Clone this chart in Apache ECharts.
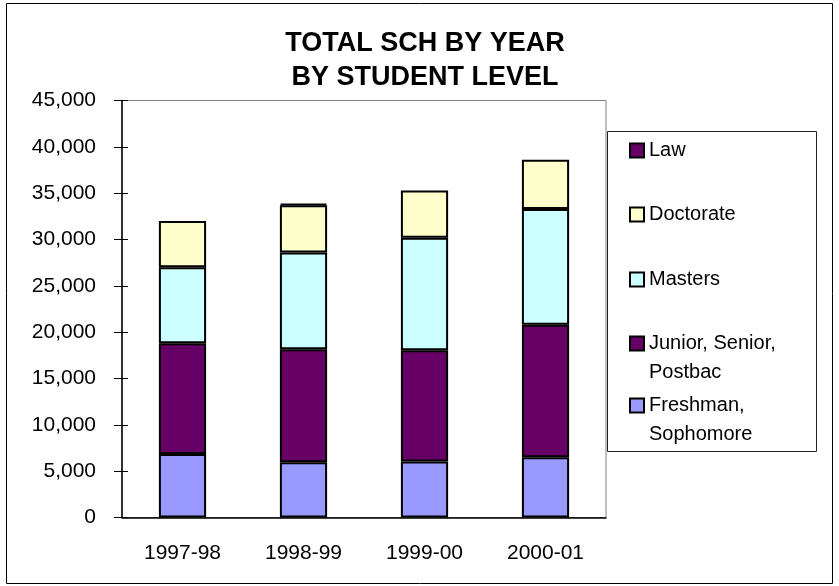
<!DOCTYPE html>
<html>
<head>
<meta charset="utf-8">
<script src="https://cdn.jsdelivr.net/npm/echarts@6/dist/echarts.min.js"></script>
<style>html,body{margin:0;padding:0;background:#fff}#chart{width:839px;height:586px}</style>
</head>
<body>
<div id="chart"></div>
<script>
const years = ['1997-98', '1998-99', '1999-00', '2000-01']
const freshman = [6850, 5950, 6050, 6500]
const junior = [11950, 12200, 12000, 14300]
const masters = [8200, 10450, 12150, 12500]
const doctorate = [5000, 5100, 5100, 5300]
const law = [0, 150, 0, 0]
const yTicks = [0, 5000, 10000, 15000, 20000, 25000, 30000, 35000, 40000, 45000]

const FONT = 'Liberation Sans, Arial, sans-serif'
const chart = echarts.init(document.getElementById('chart'))

// zero segments become empty so they don't draw an extra border line
const mkBar = (name, data, color) => ({
  name, data: data.map(v => (v ? v : '-')), type: 'bar', stack: 'sch', barWidth: '39%',
  itemStyle: { color, borderColor: '#000', borderWidth: 2 },
  emphasis: { disabled: true },
})

// one legend per entry so the two-line names keep the box on their first line
const mkLegend = (name, top, text) => ({
  data: [name], left: 629, top, orient: 'vertical', icon: 'rect',
  itemWidth: 14, itemHeight: 14, padding: 0,
  itemStyle: { borderColor: '#000', borderWidth: 2 },
  textStyle: { fontFamily: FONT, fontSize: 20, color: '#000', lineHeight: 29 },
  formatter: () => text || name,
})

chart.setOption({
  animation: false,
  title: {
    text: 'TOTAL SCH BY YEAR\nBY STUDENT LEVEL', left: 420, textAlign: 'center', top: 22,
    textStyle: { fontFamily: FONT, fontSize: 27, fontWeight: 'bold', color: '#000', lineHeight: 34 },
  },
  graphic: [
    { type: 'rect', shape: { x: 6.5, y: 3.5, width: 826, height: 580 }, style: { fill: null, stroke: '#000', lineWidth: 1 }, silent: true },
    { type: 'rect', shape: { x: 607.5, y: 131.5, width: 209, height: 320 }, style: { fill: null, stroke: '#222', lineWidth: 1 }, silent: true },
  ],
  legend: [
    mkLegend('Law', 136),
    mkLegend('Doctorate', 200),
    mkLegend('Masters', 265),
    mkLegend('Junior, Senior, Postbac', 300, '\nJunior, Senior,\nPostbac'),
    mkLegend('Freshman, Sophomore', 362, '\nFreshman,\nSophomore'),
  ],
  grid: { left: 122, right: 233, top: 100.5, bottom: 68.5, show: true, borderColor: '#808080', borderWidth: 1 },
  xAxis: [
    {
      type: 'category', data: years,
      axisLine: { lineStyle: { color: '#000', width: 1.5 } },
      axisTick: { length: 8, lineStyle: { color: '#000' } },
      axisLabel: { fontFamily: FONT, fontSize: 21, color: '#000', margin: 25 },
    },
    {
      type: 'category', data: years, position: 'bottom',
      axisLine: { show: false }, axisLabel: { show: false },
      axisTick: { inside: true, length: 5, lineStyle: { color: '#000' } },
    },
  ],
  yAxis: [
    {
      type: 'value', min: yTicks[0], max: yTicks[yTicks.length - 1], interval: 5000,
      splitLine: { show: false },
      axisLine: { show: true, lineStyle: { color: '#000', width: 1.5 } },
      axisTick: { show: true, length: 8, lineStyle: { color: '#000' } },
      axisLabel: { fontFamily: FONT, fontSize: 21, color: '#000', margin: 26, formatter: v => v.toLocaleString('en-US') },
    },
    {
      type: 'value', min: yTicks[0], max: yTicks[yTicks.length - 1], interval: 5000, position: 'left',
      splitLine: { show: false }, axisLine: { show: false }, axisLabel: { show: false },
      axisTick: { show: true, inside: true, length: 6, lineStyle: { color: '#000' } },
    },
  ],
  series: [
    mkBar('Freshman, Sophomore', freshman, '#9999FF'),
    mkBar('Junior, Senior, Postbac', junior, '#660066'),
    mkBar('Masters', masters, '#CCFFFF'),
    mkBar('Doctorate', doctorate, '#FFFFCC'),
    mkBar('Law', law, '#660066'),
  ],
})
</script>
</body>
</html>
